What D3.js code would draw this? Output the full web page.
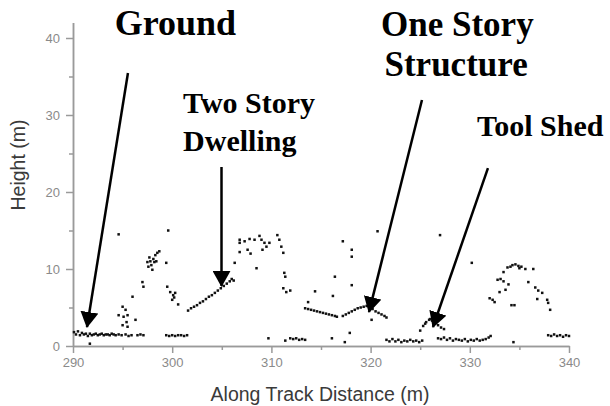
<!DOCTYPE html>
<html lang="en">
<head>
<meta charset="UTF-8">
<title>Along Track Height Profile</title>
<script src="https://d3js.org/d3.v7.min.js"></script>
<style>
  body { margin: 0; background: #fff; }
  .axis .tick text { font-family: "Liberation Sans", Arial, sans-serif; font-size: 13px; fill: #8a8a8a; }
  .axis path, .axis line { stroke: #9a9a9a; stroke-width: 1.5; }
  .axis-title { font-family: "Liberation Sans", Arial, sans-serif; font-size: 19.5px; fill: #3a3a3a; }
  .note { font-family: "Liberation Serif", "Times New Roman", serif; font-weight: bold; fill: #000; }
</style>
</head>
<body>
<svg width="610" height="406"></svg>
<script>
// tick labels
const xTicks = [290, 300, 310, 320, 330, 340];
const xMinor = [295, 305, 315, 325, 335];
const yTicks = [0, 10, 20, 30, 40];
const yMinor = [5, 15, 25, 35];

// returns: [along track distance (m), height (m)]
const groundPts = [
  [290.1,1.8],[290.3,1.5],[290.5,1.9],[290.7,1.4],[290.9,1.7],[291.1,1.5],[291.3,1.6],[291.5,1.3],
  [291.7,1.6],[291.9,1.4],[292.1,1.5],[292.3,1.6],[292.5,1.4],[292.7,1.5],[292.9,1.6],[293.1,1.4],
  [293.3,1.5],[293.5,1.5],[293.7,1.4],[293.9,1.6],[294.1,1.5],[294.3,1.4],[294.6,1.5],[294.9,1.4],
  [295.3,1.5],[295.6,1.3],[295.9,1.4],[296.5,1.4],[296.8,1.5],[297.1,1.4],[291.7,0.3],
  [299.4,1.4],[299.7,1.3],[300.0,1.4],[300.3,1.3],[300.6,1.4],[300.9,1.4],[301.2,1.3],[301.5,1.4],
  [309.7,1.0],[311.4,0.7],[311.9,1.0],[312.2,0.9],[312.5,1.0],[312.8,0.8],[313.1,0.9],[313.4,0.8],
  [316.1,1.0],[317.4,0.5],[317.9,1.7],
  [321.6,0.8],[321.9,0.6],[322.2,0.9],[322.5,0.6],[322.8,0.8],[323.1,0.5],[323.4,0.7],[323.7,0.6],
  [324.0,0.8],[324.3,0.6],[324.6,0.7],[324.9,0.5],[325.2,0.7],
  [326.8,1.0],[327.1,0.9],[327.4,1.1],[327.7,0.8],[328.0,1.0],[328.3,0.7],[328.6,0.9],[328.9,0.8],
  [329.2,0.7],[329.5,0.9],[329.8,0.6],[330.1,0.8],[330.4,0.7],[330.7,0.9],[331.0,0.7],[331.3,0.8],
  [331.6,0.9],[331.9,1.1],[332.1,1.3],[334.4,0.5],
  [337.9,1.4],[338.2,1.3],[338.5,1.5],[338.8,1.3],[339.1,1.4],[339.4,1.2],[339.7,1.4],[340.0,1.3]
];

const vegetationPts = [
  [294.6,4.0],[295.0,5.1],[295.3,4.7],[295.1,3.8],[295.5,4.0],[295.4,3.1],[295.0,2.7],[295.5,2.5],
  [296.3,3.4],[296.0,6.4],[294.6,14.5],[299.6,15.0],
  [297.5,10.9],[297.7,11.5],[297.9,10.5],[298.1,11.3],[298.3,11.8],[298.5,12.1],[298.2,10.9],
  [297.8,11.0],[298.0,9.9],[297.6,10.3],[298.7,12.3],[298.4,11.0],[299.4,10.8],
  [297.0,8.3],[297.1,7.7],[299.5,7.7],[299.8,7.0],[300.3,6.9],[300.0,6.0],[300.2,6.3],[300.6,5.4],[300.1,6.6],
  [327.0,14.4],[330.2,10.8],
  [333.4,9.6],[333.8,10.2],[334.3,10.5],[334.6,10.6],[334.9,10.4],[335.2,10.3],[335.6,10.0],[335.0,10.1],
  [334.1,10.3],[336.4,10.0],[332.8,8.6],[333.1,8.7],[333.4,8.4],[333.9,8.0],[333.0,7.0],[333.6,7.3],
  [332.0,6.2],[332.5,5.7],[332.3,6.0],[334.2,5.3],[334.5,5.3],[335.9,8.3],[336.6,7.6],[336.9,7.2],
  [337.3,6.9],[336.8,6.1],[337.8,6.0],[337.9,5.6],[338.1,4.7]
];

const dwellingPts = [
  [301.6,4.6],[301.9,4.9],[302.2,5.1],[302.5,5.3],[302.8,5.6],[303.1,5.8],[303.4,6.1],[303.7,6.4],
  [304.0,6.6],[304.3,6.9],[304.6,7.2],[304.9,7.5],[305.2,7.8],[305.5,8.1],[305.8,8.4],[306.0,8.7],[306.2,8.5],
  [306.8,13.8],[306.8,13.4],[307.3,13.6],[307.8,13.9],[308.3,13.8],[308.8,14.3],[309.0,13.8],[309.3,13.4],
  [309.5,12.9],[309.8,13.4],[310.6,14.4],[310.8,13.8],[311.0,12.9],[311.2,12.1],[306.8,12.2],[307.6,12.5],
  [307.9,12.0],[309.1,12.5],[306.3,10.8],[308.5,10.1],
  [311.3,9.5],[311.4,9.0],[311.2,7.5],[311.5,7.0],[311.9,7.2],[314.4,7.1],[313.7,5.7]
];

const structurePts = [
  [313.4,4.9],[313.7,4.8],[314.0,4.7],[314.3,4.6],[314.6,4.5],[314.9,4.4],[315.2,4.3],[315.5,4.2],
  [315.8,4.1],[316.1,4.0],[316.4,3.9],[316.6,3.8],
  [317.2,3.9],[317.5,4.1],[317.8,4.3],[318.1,4.5],[318.4,4.7],[318.7,4.9],[319.0,5.0],[319.3,5.1],
  [319.6,5.2],[319.9,5.0],[320.2,4.8],[320.5,4.5],[320.8,4.3],[321.1,4.1],[321.4,3.9],[321.6,3.7],[320.1,3.4],
  [320.7,14.9],[317.2,13.6],[318.1,12.5],[318.1,11.6],[316.4,9.0],[318.1,7.9],[316.2,6.5]
];

const shedPts = [
  [325.0,2.0],[325.3,2.6],[325.6,3.1],[325.9,3.4],[326.2,3.3],[326.5,3.0],[326.8,2.7],[327.1,2.4],
  [327.4,2.2],[325.5,2.9],[326.0,3.5]
];

const allPts = groundPts.concat(vegetationPts, dwellingPts, structurePts, shedPts);

// annotations, placed in data units
const notes = [
  { lines: ["Ground"], x: [294.2], y: [40.4], size: 36, from: [295.54, 35.45], to: [291.41, 2.47] },
  { lines: ["Two Story", "Dwelling"], x: [301.1, 301.1], y: [30.26, 25.3], size: 30, from: [304.97, 23.25], to: [304.97, 7.8] },
  { lines: ["One Story", "Structure"], x: [321.05, 321.4], y: [40.26, 35.06], size: 35, from: [325.18, 31.95], to: [319.84, 4.42] },
  { lines: ["Tool Shed"], x: [330.73], y: [27.27], size: 30, from: [331.83, 23.1], to: [326.29, 2.47] }
];

const svg = d3.select("svg");

const x = d3.scaleLinear().domain([290, 340]).range([73, 569]);
const y = d3.scaleLinear().domain([0, 42]).range([346, 22.6]);

// x axis
svg.append("g")
  .attr("class", "axis")
  .attr("transform", "translate(0,346)")
  .call(d3.axisBottom(x).tickValues(xTicks).tickSize(7).tickPadding(5).tickSizeOuter(0));
svg.append("g")
  .attr("class", "axis")
  .attr("transform", "translate(0,346)")
  .call(d3.axisBottom(x).tickValues(xMinor).tickSize(4).tickFormat("").tickSizeOuter(0));

// y axis
svg.append("g")
  .attr("class", "axis")
  .attr("transform", "translate(73,0)")
  .call(d3.axisLeft(y).tickValues(yTicks).tickSize(7).tickPadding(6).tickSizeOuter(0));
svg.append("g")
  .attr("class", "axis")
  .attr("transform", "translate(73,0)")
  .call(d3.axisLeft(y).tickValues(yMinor).tickSize(4).tickFormat("").tickSizeOuter(0));

// axis titles
svg.append("text")
  .attr("class", "axis-title")
  .attr("text-anchor", "middle")
  .attr("x", 320)
  .attr("y", 401)
  .text("Along Track Distance (m)");

svg.append("text")
  .attr("class", "axis-title")
  .attr("text-anchor", "middle")
  .attr("transform", "translate(25,165) rotate(-90)")
  .text("Height (m)");

// points
svg.append("g")
  .selectAll("rect")
  .data(allPts)
  .join("rect")
  .attr("x", d => x(d[0]) - 1.25)
  .attr("y", d => y(d[1]) - 1.25)
  .attr("width", 2.5)
  .attr("height", 2.5)
  .attr("fill", "#111");

// arrowhead
svg.append("defs").append("marker")
  .attr("id", "head")
  .attr("viewBox", "0 0 16 18")
  .attr("refX", 15)
  .attr("refY", 9)
  .attr("markerWidth", 16)
  .attr("markerHeight", 18)
  .attr("markerUnits", "userSpaceOnUse")
  .attr("orient", "auto")
  .append("path")
  .attr("d", "M0,0L16,9L0,18Z")
  .attr("fill", "#000");

const note = svg.append("g").selectAll("g").data(notes).join("g");

note.append("line")
  .attr("x1", d => x(d.from[0]))
  .attr("y1", d => y(d.from[1]))
  .attr("x2", d => x(d.to[0]))
  .attr("y2", d => y(d.to[1]))
  .attr("stroke", "#000")
  .attr("stroke-width", 2.5)
  .attr("marker-end", "url(#head)");

note.each(function(d) {
  d.lines.forEach((t, i) => {
    d3.select(this).append("text")
      .attr("class", "note")
      .attr("x", x(d.x[i]))
      .attr("y", y(d.y[i]))
      .style("font-size", d.size + "px")
      .text(t);
  });
});
</script>
</body>
</html>
